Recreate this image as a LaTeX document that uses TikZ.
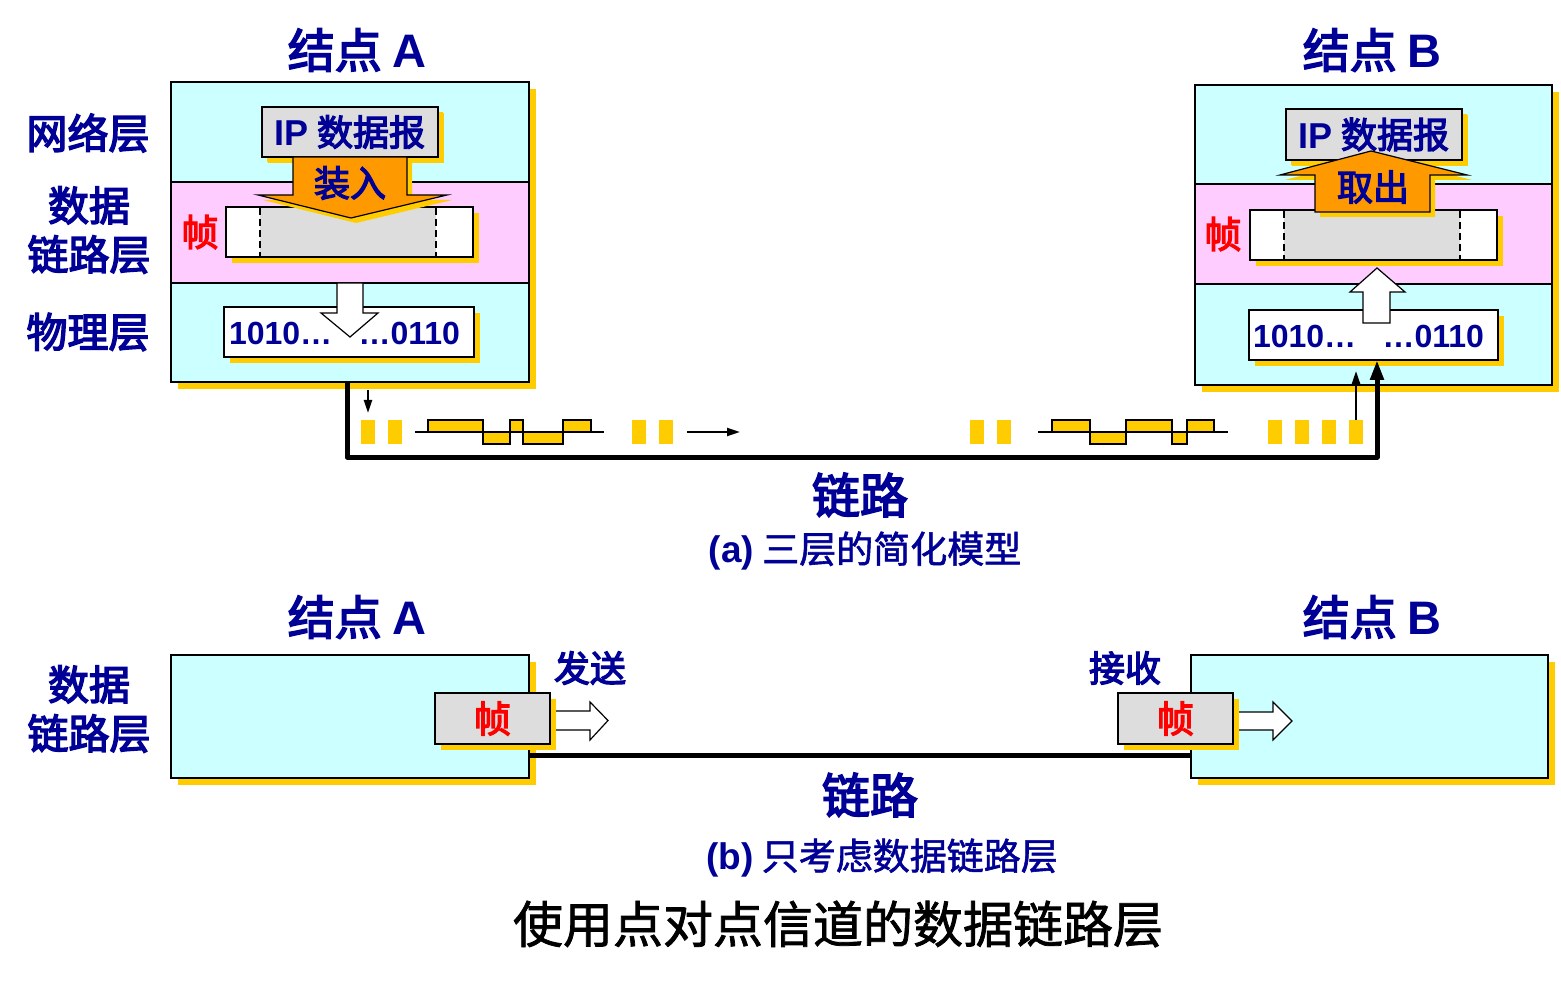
\documentclass[tikz,border=0pt]{standalone}
\usepackage{fontspec}
\newfontfamily\cjkf{Noto Sans CJK SC}
\newfontfamily\cjkm{Noto Sans CJK SC}[FakeBold=3.5]
\newfontfamily\cjkc{Noto Sans CJK SC}[FakeBold=1.5]
\newfontfamily\arialf{Liberation Sans}
\usetikzlibrary{arrows.meta,shadows}
\definecolor{navyT}{RGB}{0,0,150}
\definecolor{cyanL}{RGB}{204,255,255}
\definecolor{pinkL}{RGB}{255,204,255}
\definecolor{goldS}{RGB}{255,204,0}
\definecolor{orangeA}{RGB}{255,153,0}
\definecolor{grayF}{RGB}{221,221,221}
\newcommand\Lt[1]{{\arialf\bfseries #1}}
\begin{document}
\begin{tikzpicture}[x=1pt,y=-1pt,
  every node/.style={inner sep=0pt,outer sep=0pt},
  shA/.style={drop shadow={shadow xshift=7pt,shadow yshift=-7pt,fill=goldS,opacity=1}},
  shB/.style={drop shadow={shadow xshift=6pt,shadow yshift=-6pt,fill=goldS,opacity=1}},
  shC/.style={drop shadow={shadow xshift=5pt,shadow yshift=-5pt,fill=goldS,opacity=1}},
  layerbox/.style={draw=black,line width=1.8pt,fill=cyanL},
  band/.style={draw=black,line width=1.8pt,fill=pinkL},
  whitebox/.style={draw=black,line width=1.8pt,fill=white,shB},
  graybox/.style={draw=black,line width=1.8pt,fill=grayF,shB},
  dashln/.style={draw=black,line width=1.4pt,dash pattern=on 7pt off 4pt},
  orarrow/.style={draw=black,line width=1.2pt,fill=orangeA,shC},
  hollow/.style={draw=black,line width=1.2pt,fill=white},
  lbl/.style={text=navyT,font=\cjkm\fontsize{41}{49}\selectfont,align=center},
  nodet/.style={text=navyT,font=\cjkm\fontsize{47}{52}\selectfont},
  mid/.style={text=navyT,font=\cjkm\fontsize{36}{40}\selectfont},
  bits/.style={text=navyT,font=\arialf\bfseries\fontsize{32}{36}\selectfont},
  redt/.style={text=red,font=\cjkm\fontsize{37}{40}\selectfont},
  linkl/.style={text=navyT,font=\cjkm\fontsize{48}{52}\selectfont},
  capt/.style={text=navyT,font=\cjkc\fontsize{37}{40}\selectfont},
  link/.style={draw=black,line width=5pt,line join=round},
  thinarr/.style={draw=black,line width=2.2pt,-{Triangle[length=13pt,width=8pt]}}
]
\useasboundingbox (0,0) rectangle (1561,981);

% ---------------- (a) titles and left labels
\node[nodet] (tA) at (357,50) {结点 \Lt{A}};
\node[nodet] (tB) at (1372,50) {结点 \Lt{B}};
\node[lbl] (lNet) at (88,133) {网络层};
\node[lbl] (lDll) at (89,230) {数据\\链路层};
\node[lbl] (lPhy) at (88,332) {物理层};

% ---------------- node A
\node[layerbox,shA,minimum width=358pt,minimum height=300pt] (A) at (350,232) {};
\node[band,minimum width=358pt,minimum height=101pt] (Adll) at (350,232.5) {};
\node[graybox,shC,minimum width=176pt,minimum height=50pt,mid] (Aip) at (350,132) {\Lt{IP} 数据报};
\node[whitebox,minimum width=247pt,minimum height=50pt] (Afr) at (349.5,232) {};
\fill[grayF] (260,208) rectangle (436,256);
\draw[dashln] (260,208) -- (260,256);
\draw[dashln] (436,208) -- (436,256);
\draw[orarrow] (293,157) -- (407,157) -- (407,195) -- (447,195) -- (351,218) -- (258,195) -- (293,195) -- cycle;
\node[mid] (Azr) at (350,183) {装入};
\node[redt] (Afz) at (200,232) {帧};
\node[whitebox,minimum width=250pt,minimum height=50pt] (Aph) at (349,332) {};
\draw[hollow] (337,283) -- (363,283) -- (363,313) -- (378,313) -- (350,337) -- (321,313) -- (337,313) -- cycle;
\node[bits,anchor=west] (Ab1) at (229,333) {1010…};
\node[bits,anchor=east] (Ab2) at (460,333) {…0110};

% ---------------- node B
\node[layerbox,shA,minimum width=357pt,minimum height=300pt] (B) at (1373.5,235) {};
\node[band,minimum width=357pt,minimum height=100pt] (Bdll) at (1373.5,234) {};
\node[graybox,shC,minimum width=176pt,minimum height=51pt,mid] (Bip) at (1374,134.5) {\Lt{IP} 数据报};
\node[whitebox,minimum width=247pt,minimum height=50pt] (Bfr) at (1373.5,235) {};
\fill[grayF] (1284,211) rectangle (1460,259);
\draw[dashln] (1284,211) -- (1284,259);
\draw[dashln] (1460,211) -- (1460,259);
\draw[orarrow] (1315,212) -- (1430,212) -- (1430,175) -- (1467,175) -- (1371,151) -- (1280,175) -- (1315,175) -- cycle;
\node[mid] (Bqc) at (1373,187) {取出};
\node[redt] (Bfz) at (1223,234) {帧};
\node[whitebox,minimum width=249pt,minimum height=50pt] (Bph) at (1373.5,335) {};
\draw[hollow] (1363,323) -- (1390,323) -- (1390,292) -- (1405,292) -- (1377,268) -- (1350,292) -- (1363,292) -- cycle;
\node[bits,anchor=west] (Bb1) at (1253,336) {1010…};
\node[bits,anchor=east] (Bb2) at (1484,336) {…0110};

% ---------------- signal on the link
\foreach \x in {361,388,632,659,970,997,1268,1295,1322,1349}
  \fill[goldS] (\x,420) rectangle ++(14,24);
\fill[goldS] (428,432) -- (428,420) -- (483,420) -- (483,444) -- (510,444) -- (510,420) -- (523,420) -- (523,444) -- (563,444) -- (563,420) -- (591,420) -- (591,432) -- cycle;
\draw[line width=1.6pt] (415,432) -- (604,432);
\draw[line width=1.6pt] (428,432) -- (428,420) -- (483,420) -- (483,444) -- (510,444) -- (510,420) -- (523,420) -- (523,444) -- (563,444) -- (563,420) -- (591,420) -- (591,432);
\fill[goldS] (1052,432) -- (1052,420) -- (1090,420) -- (1090,444) -- (1126,444) -- (1126,420) -- (1172,420) -- (1172,444) -- (1187,444) -- (1187,420) -- (1214,420) -- (1214,432) -- cycle;
\draw[line width=1.6pt] (1038,432) -- (1228,432);
\draw[line width=1.6pt] (1052,432) -- (1052,420) -- (1090,420) -- (1090,444) -- (1126,444) -- (1126,420) -- (1172,420) -- (1172,444) -- (1187,444) -- (1187,420) -- (1214,420) -- (1214,432);

\coordinate (dnS) at (368,390);
\coordinate (dnE) at (368,413);
\coordinate (rtS) at (687,432);
\coordinate (rtE) at (740,432);
\coordinate (upS) at (1356,420);
\coordinate (upE) at (1356,371);
\draw[thinarr] (dnS) -- (dnE);
\draw[thinarr] (rtS) -- (rtE);
\draw[thinarr] (upS) -- (upE);

\draw[link,-{Triangle[length=20pt,width=13pt]}] ([xshift=-3pt]A.south) |- ([xshift=3.5pt,yshift=-97pt]Bph.south) -- ([xshift=3.5pt]Bph.south);

\node[linkl] (linkA) at (860,495) {链路};
\node[capt] (capA) at (865,551) {\Lt{(a)} 三层的简化模型};

% ---------------- (b)
\node[nodet] (tA2) at (357,617) {结点 \Lt{A}};
\node[nodet] (tB2) at (1372,617) {结点 \Lt{B}};
\node[lbl] (lDll2) at (89,709) {数据\\链路层};

\node[layerbox,shA,minimum width=358pt,minimum height=123pt] (A2) at (350,716.5) {};
\node[layerbox,shA,minimum width=357pt,minimum height=123pt] (B2) at (1369.5,716.5) {};

\draw[hollow] (545,711) -- (590,711) -- (590,702) -- (608,720.5) -- (590,740) -- (590,730) -- (545,730) -- cycle;
\draw[hollow] (1228,712) -- (1273,712) -- (1273,702) -- (1292,721) -- (1273,740) -- (1273,730) -- (1228,730) -- cycle;

\node[graybox,minimum width=115pt,minimum height=51pt,redt] (A2fr) at (492.5,718.5) {帧};
\node[graybox,minimum width=115pt,minimum height=51pt,redt] (B2fr) at (1175.5,718.5) {帧};

\node[mid] (send) at (590,668) {发送};
\node[mid] (recv) at (1125,668) {接收};

\draw[link] ([yshift=-38.5pt]A2.east) -- ([yshift=-38.5pt]B2.west);

\node[linkl] (linkB) at (870,795) {链路};
\node[capt] (capB) at (882,858) {\Lt{(b)} 只考虑数据链路层};
\node[text=black,font=\cjkc\fontsize{50}{56}\selectfont] (title) at (838,924) {使用点对点信道的数据链路层};
\end{tikzpicture}
\end{document}
